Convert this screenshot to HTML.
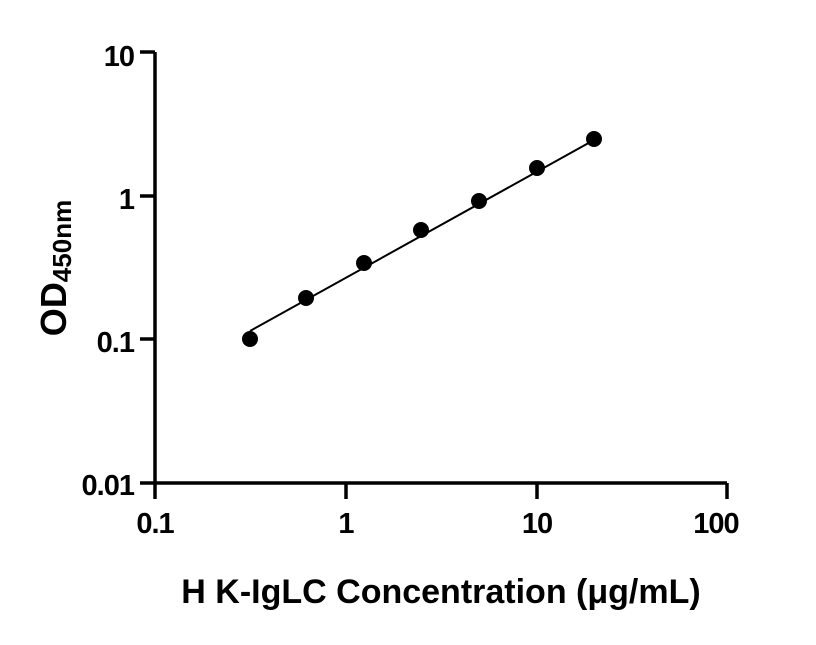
<!DOCTYPE html>
<html><head><style>body{margin:0;background:#fff}</style></head><body>
<svg width="816" height="640" xmlns="http://www.w3.org/2000/svg" font-family="Liberation Sans, sans-serif" font-weight="bold">
<g stroke="#000" stroke-width="3.5" fill="none">
<path d="M155,52V483H727"/>
<path d="M140,52H155M140,196H155M140,339H155M140,483H155"/>
<path d="M155,483V499M346,483V499M537,483V499M727,483V499"/>
</g>
<g font-size="29" text-anchor="end" letter-spacing="-1">
<text x="134" y="66">10</text><text x="134" y="209">1</text><text x="134" y="352">0.1</text><text x="134" y="495">0.01</text>
</g>
<g font-size="29" text-anchor="middle" letter-spacing="-1">
<text x="155" y="533">0.1</text><text x="346" y="533">1</text><text x="537" y="533">10</text><text x="716" y="533">100</text>
</g>
<text x="441" y="603" font-size="34" text-anchor="middle">H K-IgLC Concentration (μg/mL)</text>
<text transform="translate(66,268) rotate(-90)" font-size="36" text-anchor="middle">OD<tspan font-size="26" dy="5">450nm</tspan></text>
<path d="M250,331L594,140" stroke="#000" stroke-width="2" fill="none"/>
<g fill="#000">
<circle cx="250" cy="339" r="8"/><circle cx="306" cy="298" r="8"/><circle cx="364" cy="263" r="8"/><circle cx="421" cy="230" r="8"/><circle cx="479" cy="201" r="8"/><circle cx="537" cy="168" r="8"/><circle cx="594" cy="139" r="8"/>
</g>
</svg>
</body></html>
